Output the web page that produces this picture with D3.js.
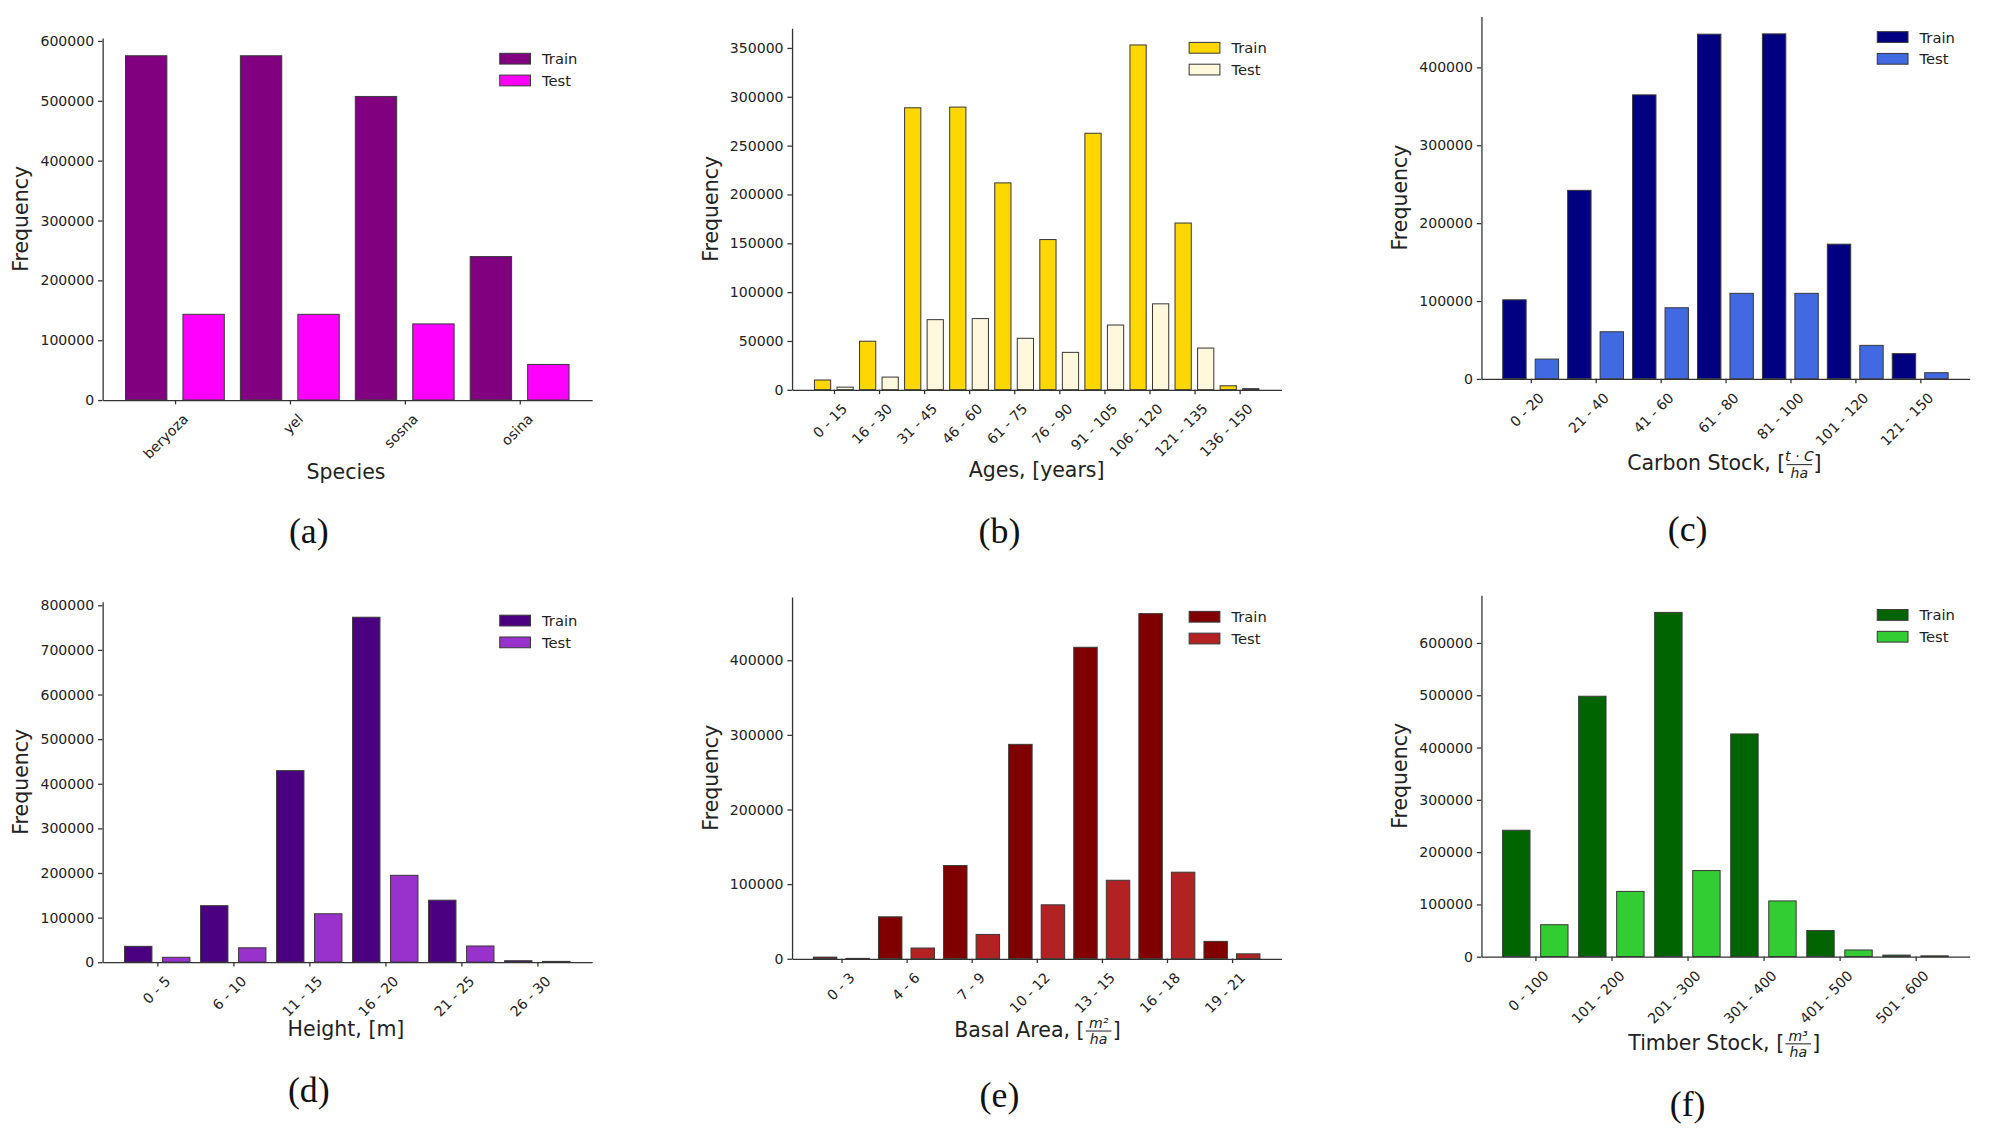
<!DOCTYPE html>
<html>
<head>
<meta charset="utf-8">
<script src="https://cdn.jsdelivr.net/npm/d3@7"></script>
<style>
  body { margin: 0; background: #fff; }
  text { font-family: "DejaVu Sans", sans-serif; fill: #222; }
  .axis path, .axis line { stroke: #333; stroke-width: 1; }
  .axis text { font-size: 11px; fill: #222; }
  .cap { font-family: "Liberation Serif", serif; font-size: 28px; fill: #111; }
</style>
</head>
<body>
<svg id="fig" width="1999" height="1142" viewBox="0 0 1560 891"></svg>
<script>
// data
const speciesCats = ['beryoza', 'yel', 'sosna', 'osina'];
const speciesTrain = [575000, 575000, 507000, 239500];
const speciesTest = [143000, 143000, 127000, 59300];

const ageCats = ['0 - 15', '16 - 30', '31 - 45', '46 - 60', '61 - 75', '76 - 90', '91 - 105', '106 - 120', '121 - 135', '136 - 150'];
const ageTrain = [9900, 49600, 288600, 289300, 211700, 153700, 262500, 352900, 170600, 4000];
const ageTest = [2600, 12900, 71700, 72800, 52600, 38200, 66200, 87900, 42600, 1100];

const carbonCats = ['0 - 20', '21 - 40', '41 - 60', '61 - 80', '81 - 100', '101 - 120', '121 - 150'];
const carbonTrain = [101400, 241900, 364500, 442400, 442800, 172800, 32300];
const carbonTest = [25300, 60400, 91200, 109700, 109700, 42900, 7800];

const heightCats = ['0 - 5', '6 - 10', '11 - 15', '16 - 20', '21 - 25', '26 - 30'];
const heightTrain = [35300, 126400, 429100, 772900, 138700, 3000];
const heightTest = [10700, 32000, 108300, 194500, 36100, 1500];

const basalCats = ['0 - 3', '4 - 6', '7 - 9', '10 - 12', '13 - 15', '16 - 18', '19 - 21'];
const basalTrain = [2000, 56000, 124700, 287100, 417200, 462300, 23100];
const basalTest = [300, 14200, 32400, 72100, 105000, 115800, 6400];

const timberCats = ['0 - 100', '101 - 200', '201 - 300', '301 - 400', '401 - 500', '501 - 600'];
const timberTrain = [241500, 497800, 658100, 425700, 49700, 2800];
const timberTest = [60900, 124600, 164500, 106400, 12600, 1400];

const svg = d3.select('#fig');

function makePanel(p) {
  let g = svg.append('g');

  let x = d3.scaleLinear()
    .domain([-p.pad, p.cats.length - 1 + p.pad])
    .range([p.left, p.right]);
  let y = d3.scaleLinear()
    .domain([0, p.ymax])
    .range([p.bottom, p.top]);

  let step = x(1) - x(0);
  let bw = step * 0.36;

  // bars
  [[p.train, p.c1, -0.25], [p.test, p.c2, 0.25]].forEach(([vals, col, off]) => {
    g.selectAll(null)
      .data(vals)
      .enter()
      .append('rect')
      .attr('x', (d, i) => x(i + off) - bw / 2)
      .attr('y', (d) => y(d))
      .attr('width', bw)
      .attr('height', (d) => y(0) - y(d))
      .attr('fill', col)
      .attr('stroke', '#3a3a3a')
      .attr('stroke-width', 0.8);
  });

  // axes
  let yAxis = d3.axisLeft(y).tickValues(d3.range(0, p.ymax, p.ystep)).tickFormat(d3.format('d')).tickSize(3.5).tickSizeOuter(0);
  g.append('g').attr('class', 'axis')
    .attr('transform', `translate(${p.left},0)`)
    .call(yAxis);

  let xAxis = d3.axisBottom(x).tickValues(d3.range(p.cats.length)).tickFormat((i) => p.cats[i]).tickSize(3.5).tickSizeOuter(0);
  g.append('g').attr('class', 'axis')
    .attr('transform', `translate(0,${p.bottom})`)
    .call(xAxis)
    .selectAll('text')
    .attr('text-anchor', 'end')
    .attr('transform', 'translate(2,4) rotate(-45)')
    .attr('dy', '0.71em')
    .attr('dx', '-0.2em');

  // y label
  g.append('text')
    .attr('transform', `translate(${p.left - 58},${(p.top + p.bottom) / 2}) rotate(-90)`)
    .attr('text-anchor', 'middle')
    .style('font-size', '16px')
    .text('Frequency');

  // x label, with optional fraction
  let lab = g.append('g');
  let t = lab.append('text').style('font-size', '16px').text(p.xlabel);
  let w = t.node().getComputedTextLength();
  if (p.frac) {
    let fw = 20;
    lab.append('text').attr('x', w + 1 + fw / 2).attr('y', -7).attr('text-anchor', 'middle')
      .style('font-size', '11px').style('font-style', 'italic').text(p.frac[0]);
    lab.append('line').attr('x1', w + 1).attr('x2', w + 1 + fw).attr('y1', -4.5).attr('y2', -4.5)
      .attr('stroke', '#222').attr('stroke-width', 0.8);
    lab.append('text').attr('x', w + 1 + fw / 2).attr('y', 6).attr('text-anchor', 'middle')
      .style('font-size', '11px').style('font-style', 'italic').text(p.frac[1]);
    lab.append('text').attr('x', w + fw + 2).style('font-size', '16px').text(']');
    w = w + fw + 7;
  }
  lab.attr('transform', `translate(${p.labx - w / 2},${p.laby})`);

  // legend
  let lg = g.append('g').attr('transform', `translate(${p.legx},${p.legy})`);
  [['Train', p.c1], ['Test', p.c2]].forEach(([name, col], i) => {
    lg.append('rect').attr('x', 0).attr('y', i * 17).attr('width', 24).attr('height', 8.4)
      .attr('fill', col).attr('stroke', '#3a3a3a').attr('stroke-width', 0.8);
    lg.append('text').attr('x', 33).attr('y', i * 17 + 8.5).style('font-size', '11.5px').text(name);
  });

  // panel caption
  g.append('text').attr('class', 'cap')
    .attr('x', p.capx).attr('y', p.capy)
    .attr('text-anchor', 'middle')
    .text(p.cap);
}

makePanel({ cats: speciesCats, train: speciesTrain, test: speciesTest, c1: '#800080', c2: '#ff00ff',
  left: 80, right: 462, top: 29.4, bottom: 312, pad: 0.63, ymax: 605000, ystep: 100000,
  xlabel: 'Species', labx: 270, laby: 374, legx: 390, legy: 41.5, cap: '(a)', capx: 241, capy: 424 });

makePanel({ cats: ageCats, train: ageTrain, test: ageTest, c1: '#ffd700', c2: '#fff8dc',
  left: 618, right: 1000, top: 21.8, bottom: 304, pad: 0.93, ymax: 370200, ystep: 50000,
  xlabel: 'Ages, [years]', labx: 809, laby: 372, legx: 928, legy: 33, cap: '(b)', capx: 780, capy: 424 });

makePanel({ cats: carbonCats, train: carbonTrain, test: carbonTest, c1: '#000080', c2: '#4169e1',
  left: 1156, right: 1537, top: 12.6, bottom: 295.5, pad: 0.76, ymax: 465400, ystep: 100000,
  xlabel: 'Carbon Stock, [', frac: ['t · C', 'ha'], labx: 1345, laby: 367, legx: 1465, legy: 24.6, cap: '(c)', capx: 1317, capy: 422 });

makePanel({ cats: heightCats, train: heightTrain, test: heightTest, c1: '#4b0082', c2: '#9932cc',
  left: 80, right: 462, top: 469.3, bottom: 750.7, pad: 0.72, ymax: 808200, ystep: 100000,
  xlabel: 'Height, [m]', labx: 270, laby: 808, legx: 390, legy: 480, cap: '(d)', capx: 241, capy: 860 });

makePanel({ cats: basalCats, train: basalTrain, test: basalTest, c1: '#800000', c2: '#b22222',
  left: 618, right: 1000, top: 465.6, bottom: 748, pad: 0.76, ymax: 484900, ystep: 100000,
  xlabel: 'Basal Area, [', frac: ['m²', 'ha'], labx: 809, laby: 809, legx: 928, legy: 477, cap: '(e)', capx: 780, capy: 864 });

makePanel({ cats: timberCats, train: timberTrain, test: timberTest, c1: '#006400', c2: '#32cd32',
  left: 1156, right: 1537, top: 464.4, bottom: 746.4, pad: 0.71, ymax: 691000, ystep: 100000,
  xlabel: 'Timber Stock, [', frac: ['m³', 'ha'], labx: 1345, laby: 819, legx: 1465, legy: 475.6, cap: '(f)', capx: 1317, capy: 871 });
</script>
</body>
</html>
